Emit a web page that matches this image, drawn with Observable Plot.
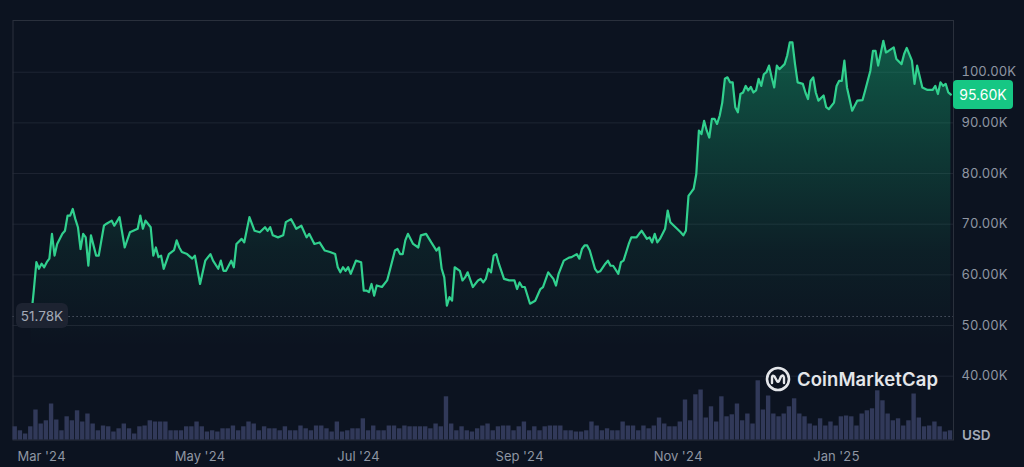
<!DOCTYPE html>
<html>
<head>
<meta charset="utf-8">
<script src="https://cdn.jsdelivr.net/npm/d3@7"></script>
<script src="https://cdn.jsdelivr.net/npm/@observablehq/plot@0.6"></script>
<style>
  html, body { margin: 0; padding: 0; background: #0c1320; }
  #wrap { position: relative; width: 1024px; height: 467px; overflow: hidden; font-family: Inter, "Noto Sans", sans-serif; }
  #wrap svg { position: absolute; left: 0; top: 0; }
  .tag { position: absolute; display: flex; align-items: center; justify-content: center; font-family: Inter, sans-serif; }
  #lastTag { background: #16c784; color: #ffffff; font-size: 14px; border-radius: 4px; width: 60px; height: 29px; }
  #openTag { background: #1d2331; color: #a3aab7; font-size: 13.5px; border-radius: 6px; width: 52px; height: 25px; }
  #usd { position: absolute; color: #a3aab7; font-size: 13.5px; font-weight: 600; }
  #logo { position: absolute; display: flex; align-items: center; color: #e4e6ea; font-size: 18.5px; font-weight: 600; letter-spacing: 0.1px; }
  #logo svg { position: static; margin-right: 6px; }
</style>
</head>
<body>
<div id="wrap"></div>
<script>
// ---- Data ----
const priceDates = [
"2024-02-26","2024-02-27","2024-02-28","2024-02-29","2024-03-01","2024-03-02","2024-03-03","2024-03-04","2024-03-05","2024-03-06",
"2024-03-07","2024-03-09","2024-03-10","2024-03-11","2024-03-12","2024-03-13","2024-03-14","2024-03-15","2024-03-16","2024-03-17",
"2024-03-18","2024-03-19","2024-03-20","2024-03-22","2024-03-23","2024-03-25","2024-03-26","2024-03-28","2024-03-29","2024-03-31",
"2024-04-02","2024-04-04","2024-04-07","2024-04-08","2024-04-09","2024-04-10","2024-04-12","2024-04-13","2024-04-14","2024-04-15",
"2024-04-16","2024-04-17","2024-04-19","2024-04-21","2024-04-22","2024-04-23","2024-04-24","2024-04-26","2024-04-28","2024-04-29",
"2024-05-01","2024-05-03","2024-05-05","2024-05-06","2024-05-08","2024-05-09","2024-05-10","2024-05-11","2024-05-13","2024-05-14",
"2024-05-15","2024-05-17","2024-05-18","2024-05-20","2024-05-22","2024-05-24","2024-05-26","2024-05-27","2024-05-28","2024-05-29",
"2024-05-31","2024-06-02","2024-06-03","2024-06-05","2024-06-06","2024-06-07","2024-06-09","2024-06-11","2024-06-12","2024-06-14",
"2024-06-16","2024-06-18","2024-06-20","2024-06-22","2024-06-23","2024-06-24","2024-06-25","2024-06-26","2024-06-27","2024-06-28",
"2024-06-30","2024-07-02","2024-07-03","2024-07-04","2024-07-05","2024-07-06","2024-07-07","2024-07-08","2024-07-10","2024-07-12",
"2024-07-13","2024-07-15","2024-07-16","2024-07-17","2024-07-18","2024-07-19","2024-07-20","2024-07-22","2024-07-24","2024-07-25",
"2024-07-27","2024-07-29","2024-07-31","2024-08-01","2024-08-02","2024-08-03","2024-08-04","2024-08-05","2024-08-06","2024-08-07",
"2024-08-09","2024-08-10","2024-08-11","2024-08-12","2024-08-14","2024-08-16","2024-08-17","2024-08-18","2024-08-19","2024-08-20",
"2024-08-21","2024-08-22","2024-08-23","2024-08-24","2024-08-26","2024-08-28","2024-08-30","2024-08-31","2024-09-01","2024-09-02",
"2024-09-03","2024-09-05","2024-09-07","2024-09-09","2024-09-10","2024-09-12","2024-09-14","2024-09-15","2024-09-16","2024-09-18",
"2024-09-20","2024-09-21","2024-09-23","2024-09-24","2024-09-25","2024-09-26","2024-09-27","2024-09-28","2024-09-30","2024-10-01",
"2024-10-02","2024-10-04","2024-10-05","2024-10-06","2024-10-07","2024-10-09","2024-10-10","2024-10-11","2024-10-13","2024-10-14",
"2024-10-16","2024-10-17","2024-10-18","2024-10-20","2024-10-21","2024-10-22","2024-10-23","2024-10-24","2024-10-25","2024-10-27",
"2024-10-28","2024-10-29","2024-10-31","2024-11-02","2024-11-03","2024-11-04","2024-11-05","2024-11-06","2024-11-07","2024-11-08",
"2024-11-09","2024-11-10","2024-11-11","2024-11-12","2024-11-13","2024-11-14","2024-11-15","2024-11-16","2024-11-17","2024-11-18",
"2024-11-19","2024-11-20","2024-11-21","2024-11-22","2024-11-23","2024-11-24","2024-11-25","2024-11-26","2024-11-27","2024-11-28",
"2024-11-29","2024-11-30","2024-12-01","2024-12-02","2024-12-03","2024-12-04","2024-12-05","2024-12-06","2024-12-07","2024-12-08",
"2024-12-09","2024-12-10","2024-12-12","2024-12-13","2024-12-14","2024-12-15","2024-12-16","2024-12-17","2024-12-19","2024-12-20",
"2024-12-21","2024-12-22","2024-12-23","2024-12-24","2024-12-25","2024-12-27","2024-12-28","2024-12-29","2024-12-31","2025-01-01",
"2025-01-02","2025-01-03","2025-01-04","2025-01-05","2025-01-07","2025-01-09","2025-01-11","2025-01-12","2025-01-14","2025-01-15",
"2025-01-16","2025-01-17","2025-01-19","2025-01-20","2025-01-21","2025-01-23","2025-01-24","2025-01-26","2025-01-27","2025-01-28",
"2025-01-30","2025-01-31","2025-02-01","2025-02-03","2025-02-05","2025-02-07","2025-02-08","2025-02-09","2025-02-10","2025-02-11",
"2025-02-12","2025-02-13","2025-02-14"
];
// price in thousands of USD
const priceValues = [
51.78,56.9,62.5,61.2,62.2,61.5,62.5,63.2,68.1,63.8,
66.1,68.1,68.7,71.7,71.7,73.0,71.0,69.4,65.1,68.1,
67.4,61.8,67.8,63.8,63.8,69.7,70.1,70.7,69.7,71.4,
65.4,68.4,69.1,71.7,69.1,70.7,69.4,63.8,65.4,63.5,
63.8,61.2,64.1,64.9,66.8,65.4,64.5,64.1,63.2,63.8,
58.2,62.8,64.1,62.8,61.2,62.8,60.8,60.8,62.8,61.5,
66.1,67.1,66.4,71.4,68.7,68.4,69.4,68.7,69.4,67.8,
67.4,67.8,70.4,71.0,70.1,69.1,69.7,67.4,68.1,66.1,
66.4,64.8,64.5,64.1,61.5,60.5,61.5,60.8,61.5,60.2,
62.8,62.5,56.9,56.9,56.6,58.2,55.9,57.9,57.6,58.9,
60.8,64.8,65.1,64.1,64.1,66.8,68.1,66.1,65.4,67.8,
68.1,66.4,64.8,65.4,61.2,59.5,53.9,55.6,54.9,61.5,
60.8,58.9,59.5,60.5,57.6,58.9,59.2,58.5,59.2,61.2,
60.5,63.8,64.1,62.2,59.2,58.9,58.9,57.2,58.5,57.6,
57.6,54.3,54.9,57.2,57.6,60.5,59.2,57.9,60.2,62.8,
63.4,63.5,64.1,63.2,65.1,65.8,65.8,64.8,61.2,60.5,
60.7,62.2,62.8,61.8,61.8,60.2,62.5,62.8,66.1,67.4,
67.4,68.1,68.7,67.1,67.4,66.4,68.1,66.4,67.1,69.1,
72.7,70.4,69.4,68.4,67.8,68.7,75.6,76.3,77.0,79.9,
88.5,87.8,90.4,88.5,87.1,90.8,90.8,89.8,91.4,94.0,
98.7,99.0,98.0,98.0,93.1,92.1,95.7,96.0,97.3,96.4,
97.1,96.0,96.4,98.7,97.3,99.6,100.0,101.3,99.0,97.0,
101.3,100.6,101.6,103.3,105.9,105.9,101.6,98.0,97.7,96.0,
94.7,98.3,99.0,96.0,94.4,95.4,93.1,92.7,94.0,97.3,
98.3,98.3,102.3,97.0,92.4,94.4,94.5,96.4,100.3,104.2,
104.2,101.3,106.2,103.9,104.2,104.9,102.6,101.6,103.6,104.8,
102.3,97.7,101.3,97.0,96.5,96.5,97.3,95.7,98.0,97.3,
97.7,96.0,95.6
];
// trading volume, billions of USD, one value per 2-day bucket starting at volumeStart
const volumeStart = "2024-02-19";
const volumeValues = [
33,23,15,33,75,40,48,90,50,23,
58,48,73,45,65,40,23,35,33,20,
28,40,28,15,33,35,48,45,45,45,
23,23,23,33,33,45,33,20,23,20,
28,28,35,23,33,45,40,23,33,28,
28,23,33,23,23,35,28,23,35,35,
28,20,45,20,23,28,28,53,23,35,
23,23,35,35,28,35,33,33,33,33,
28,40,33,108,40,23,33,23,20,28,
35,40,23,33,35,35,23,33,45,23,
33,23,33,35,35,35,23,23,20,20,
23,45,35,23,28,23,23,45,35,35,
23,35,28,35,55,40,33,33,45,100,
48,113,125,55,83,45,108,58,63,90,
48,65,40,148,75,110,65,58,65,83,
103,65,58,40,35,53,35,45,35,58,
60,58,35,65,73,78,123,98,65,48,
53,35,48,115,55,33,35,45,33,20,23
];
const xDomain = ["2024-02-19", "2025-02-15"];
const yTicks = [40, 50, 60, 70, 80, 90, 100];
const xTickDates = ["2024-03-01", "2024-05-01", "2024-07-01", "2024-09-01", "2024-11-01", "2025-01-01"];
const xTickLabels = ["Mar '24", "May '24", "Jul '24", "Sep '24", "Nov '24", "Jan '25"];
const openPrice = 51.78;
const lastPrice = 95.60;
const currency = "USD";
const brand = "CoinMarketCap";

// ---- Build ----
const W = 1024, H = 467;
const M = {left: 12.5, right: 71, top: 20, bottom: 27.5};
const yDomain = [27.40, 110.21];
const priceData = priceDates.map((d, i) => ({date: new Date(d), price: priceValues[i]}));
const vStart = new Date(volumeStart);
const volData = volumeValues.map((v, i) => ({
  start: d3.utcDay.offset(vStart, 2 * i),
  end: d3.utcDay.offset(vStart, 2 * i + 2),
  vol: v
}));
const tickLabel = new Map(xTickDates.map((d, i) => [+new Date(d), xTickLabels[i]]));
const xDom = xDomain.map(d => new Date(d));

const wrap = document.getElementById("wrap");

const chart = Plot.plot({
  width: W, height: H,
  marginLeft: M.left, marginRight: M.right, marginTop: M.top, marginBottom: M.bottom,
  style: {background: "transparent", color: "#8f96a3", fontFamily: "Inter, sans-serif", fontSize: "13px"},
  x: {type: "utc", domain: xDom, ticks: xTickDates.map(d => new Date(d)), tickFormat: d => tickLabel.get(+d), tickSize: 0, tickPadding: 12, label: null},
  y: {domain: yDomain, ticks: yTicks, tickFormat: d => d.toFixed(2) + "K", tickSize: 0, tickPadding: 8, label: null, axis: "right"},
  marks: [
    Plot.ruleY(yTicks, {stroke: "#1e2532", strokeWidth: 1}),
    Plot.areaY(priceData, {x: "date", y1: yDomain[0], y2: "price", fill: "url(#areaGrad)"}),
    Plot.ruleY([openPrice], {stroke: "#5c6472", strokeWidth: 1.2, strokeDasharray: "1.2,2.8"}),
    Plot.lineY(priceData, {x: "date", y: "price", stroke: "#31d08e", strokeWidth: 2.2, strokeLinejoin: "round"}),
    Plot.frame({stroke: "#2a303c"})
  ]
});
const ns = "http://www.w3.org/2000/svg";
const defs = document.createElementNS(ns, "defs");
const yS = chart.scale("y");
defs.innerHTML = `<linearGradient id="areaGrad" gradientUnits="userSpaceOnUse" x1="0" y1="${yS.apply(yDomain[1])}" x2="0" y2="${yS.apply(yDomain[0])}">
  <stop offset="0" stop-color="#16c784" stop-opacity="0.42"/>
  <stop offset="0.3" stop-color="#16c784" stop-opacity="0.22"/>
  <stop offset="0.55" stop-color="#16c784" stop-opacity="0.07"/>
  <stop offset="0.78" stop-color="#16c784" stop-opacity="0"/>
</linearGradient>`;
chart.prepend(defs);
wrap.appendChild(chart);

const vol = Plot.plot({
  width: W, height: H,
  marginLeft: M.left, marginRight: M.right, marginTop: M.top, marginBottom: M.bottom,
  style: {background: "transparent"},
  x: {type: "utc", domain: xDom, axis: null},
  y: {domain: [0, 200], range: [H - M.bottom, H - M.bottom - 80], axis: null},
  marks: [
    Plot.rectY(volData, {x1: "start", x2: "end", y: "vol", fill: "#313959", insetRight: 0.8})
  ]
});
wrap.appendChild(vol);

// tags positioned from the chart's scales
const plotRight = W - M.right;
const lastTag = document.createElement("div");
lastTag.id = "lastTag"; lastTag.className = "tag";
lastTag.textContent = lastPrice.toFixed(2) + "K";
lastTag.style.left = plotRight + "px";
lastTag.style.top = (yS.apply(lastPrice) - 14.5) + "px";
wrap.appendChild(lastTag);

const openTag = document.createElement("div");
openTag.id = "openTag"; openTag.className = "tag";
openTag.textContent = openPrice.toFixed(2) + "K";
openTag.style.left = (M.left + 3.5) + "px";
openTag.style.top = (yS.apply(openPrice) - 12.5) + "px";
wrap.appendChild(openTag);

const usd = document.createElement("div");
usd.id = "usd"; usd.textContent = currency;
usd.style.left = (plotRight + 9) + "px";
usd.style.top = (H - M.bottom - 13) + "px";
wrap.appendChild(usd);

const logo = document.createElement("div");
logo.id = "logo";
logo.style.left = "765px";
logo.style.top = "366px";
logo.innerHTML = `<svg width="26" height="26" viewBox="0 0 26 26"><circle cx="13" cy="13" r="11" fill="none" stroke="#e4e6ea" stroke-width="2.6"/><path d="M7 17 L7 11.5 Q7 8.5 9.5 10.5 L12 15 Q13 16.5 14 15 L16 10.5 Q18 8 19 11.5 L19 17" fill="none" stroke="#e4e6ea" stroke-width="2.4" stroke-linecap="round" stroke-linejoin="round"/></svg><span>${brand}</span>`;
wrap.appendChild(logo);
</script>
</body>
</html>
